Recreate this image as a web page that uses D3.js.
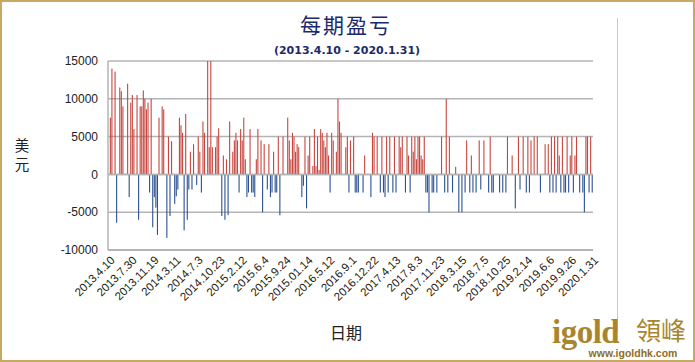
<!DOCTYPE html>
<html><head><meta charset="utf-8">
<script src="https://cdn.jsdelivr.net/npm/d3@7/dist/d3.min.js"></script>
<style>
html,body{margin:0;padding:0;background:#fff;}
svg{display:block;}
</style></head>
<body>
<script>
// ---- data ----
const title = "每期盈亏";
const subtitle = "(2013.4.10 - 2020.1.31)";
const yLabel = "美元";
const xLabel = "日期";
const tickLabels = ["2013.4.10","2013.7.30","2013.11.19","2014.3.11","2014.7.3","2014.10.23","2015.2.12","2015.6.4","2015.9.24","2015.01.14","2016.5.12","2016.9.1","2016.12.22","2017.4.13","2017.8.3","2017.11.23","2018.3.15","2018.7.5","2018.10.25","2019.2.14","2019.6.6","2019.9.26","2020.1.31"];
const labelEvery = 14;
const yTicks = [-10000, -5000, 0, 5000, 10000, 15000];
const profit = [
0,7500,14000,0,13600,-6400,0,11500,11000,9000,
0,0,12000,-3000,9500,10500,6000,0,10500,-6000,
9000,9000,11100,10000,8600,9500,-2400,10000,-7000,-3000,
-4400,-8000,7500,0,9000,8600,0,-8400,5000,-5500,
4400,0,-3900,-2900,-2000,7500,6500,5500,-7400,8000,
-6000,-2000,3000,-2000,4000,0,-1400,5000,3000,-2400,
7000,5500,0,15000,3600,15000,3600,0,3600,5000,
6100,0,-5500,2500,-6000,2000,-5400,7000,0,3000,
4500,5500,4500,-2400,6000,4500,7500,2000,-3000,-2400,
6000,-2400,-2400,-3000,2000,6000,0,4500,-5000,4000,
0,-2000,4000,-3000,-2400,3000,-2400,-2400,5000,-5400,
0,5000,0,0,7500,4500,2000,5500,5000,3000,
4000,3600,0,-3000,-1500,5000,-4500,2500,5000,0,
1100,6000,1100,5000,600,6000,5500,4500,3600,5500,
2500,-2400,5500,4500,0,3000,10000,7000,5500,0,
0,3600,5000,-2400,4500,0,5000,-2400,-2400,-2400,
0,0,-2400,2500,0,0,0,-3000,5500,5000,
0,5000,0,-2400,5000,-2400,-3000,5000,-2400,5000,
0,-2400,5000,-2400,0,5000,3600,5000,0,-2400,
5000,2500,-2400,5000,3000,5000,2000,5000,5000,2500,
2000,5000,-2400,-2400,-5000,0,-2400,-2400,0,-2400,
0,0,5000,0,-2400,10000,-2400,5000,0,-2400,
0,1000,0,-5000,0,-5000,0,-2400,4500,0,
-2400,2500,-2400,0,-2400,0,4500,-2000,0,4500,
0,0,-2400,5000,-2400,-2400,0,0,0,-2400,
0,-2400,0,-2400,5000,0,0,2500,0,-4500,
0,5000,-2000,0,5000,0,-2400,5000,-2400,4500,
0,5000,0,5000,0,-2400,0,0,4000,0,
4000,-2400,5000,-2400,5000,-2400,5000,2500,-2400,5000,
-2400,-2400,5000,-2400,2500,5000,-2400,2500,5000,0,
-2400,0,-2400,-5000,5000,5000,-2400,5000,-2400
];

// ---- layout ----
const W = 695, H = 362;
const plot = {left:108, right:593, top:61, bottom:250};
const navy = "#1c2a6b", gold = "#a8862f";

const svg = d3.select("body").append("svg").attr("width", W).attr("height", H);
svg.append("rect").attr("width", W).attr("height", H).attr("fill", "#fff");
svg.append("rect").attr("x",1).attr("y",1).attr("width",W-2).attr("height",H-2)
  .attr("fill","none").attr("stroke","#c9a862").attr("stroke-width",2);
// chart area right edge
svg.append("line").attr("x1",617.5).attr("x2",617.5).attr("y1",18).attr("y2",332)
  .attr("stroke","#c8c8c8").attr("stroke-width",1);

const x = d3.scaleBand().domain(d3.range(profit.length)).range([plot.left, plot.right]).padding(0);
const y = d3.scaleLinear().domain([-10000, 15000]).range([plot.bottom, plot.top]);

// gridlines
svg.append("g").selectAll("line").data(yTicks).join("line")
  .attr("x1", plot.left).attr("x2", plot.right)
  .attr("y1", d => y(d)).attr("y2", d => y(d))
  .attr("stroke", "#b4b4b4").attr("stroke-width", d => d === -10000 ? 2 : 1.5);
svg.append("line").attr("x1",plot.left).attr("x2",plot.left).attr("y1",plot.top).attr("y2",plot.bottom)
  .attr("stroke","#b4b4b4").attr("stroke-width",1.5);

// bars
const bw = 1.1;
svg.append("g").selectAll("rect").data(profit.map((v,i)=>({v,i})).filter(d=>d.v!==0)).join("rect")
  .attr("x", d => x(d.i) + (x.bandwidth()-bw)/2)
  .attr("width", bw)
  .attr("y", d => y(Math.max(0, d.v)))
  .attr("height", d => Math.abs(y(d.v) - y(0)))
  .attr("fill", d => d.v > 0 ? "#c74740" : "#2d5291");

// zero line on top
svg.append("line").attr("x1", plot.left).attr("x2", plot.right)
  .attr("y1", y(0)).attr("y2", y(0)).attr("stroke","#b4b4b4").attr("stroke-width",1.5);

// y tick labels
svg.append("g").selectAll("text").data(yTicks).join("text")
  .attr("x", 98).attr("y", d => y(d)).attr("dy","0.35em")
  .attr("text-anchor","end").attr("font-family","Liberation Sans, Arial, sans-serif")
  .attr("font-size", 12).attr("fill","#222").text(d => d);

// x tick labels
svg.append("g").selectAll("text").data(tickLabels).join("text")
  .attr("transform", (d,k) => `translate(${x(k*labelEvery)+x.bandwidth()/2+4},258) rotate(-45)`)
  .attr("text-anchor","end").attr("dy","0.35em")
  .attr("font-family","Liberation Sans, Arial, sans-serif")
  .attr("font-size", 11.5).attr("fill","#222").text(d => d);

// titles
svg.append("text").attr("x", 346).attr("y", 33).attr("text-anchor","middle")
  .attr("font-family","Noto Sans CJK SC, sans-serif").attr("font-size", 21)
  .attr("fill", navy).attr("letter-spacing", 2).text(title);
svg.append("text").attr("x", 347).attr("y", 54).attr("text-anchor","middle")
  .attr("font-family","DejaVu Sans, sans-serif").attr("font-size", 11).attr("font-weight","bold")
  .attr("fill", navy).text(subtitle);

// y axis label (vertical)
svg.append("g").selectAll("text").data(Array.from(yLabel)).join("text")
  .attr("x", 22).attr("y", (d,k) => 151 + k*19).attr("text-anchor","middle")
  .attr("font-family","Noto Sans CJK SC, sans-serif").attr("font-size", 14.5)
  .attr("fill","#222").text(d => d);

// x axis label
svg.append("text").attr("x", 346).attr("y", 339).attr("text-anchor","middle")
  .attr("font-family","Noto Sans CJK SC, sans-serif").attr("font-size", 16)
  .attr("fill","#222").text(xLabel);

// logo
svg.append("text").attr("x", 552).attr("y", 343)
  .attr("font-family","Liberation Serif, DejaVu Serif, serif").attr("font-weight","bold")
  .attr("font-size", 33).attr("fill", gold).attr("letter-spacing",-0.5).text("igold");
svg.append("text").attr("x", 636).attr("y", 340)
  .attr("font-family","Noto Sans CJK TC, sans-serif")
  .attr("font-size", 25).attr("fill", gold).text("領峰");
svg.append("text").attr("x", 633).attr("y", 357).attr("text-anchor","middle")
  .attr("font-family","Liberation Sans, Arial, sans-serif").attr("font-weight","bold")
  .attr("font-size", 10.5).attr("fill", "#8f6d25").text("www.igoldhk.com");
</script>
</body></html>
